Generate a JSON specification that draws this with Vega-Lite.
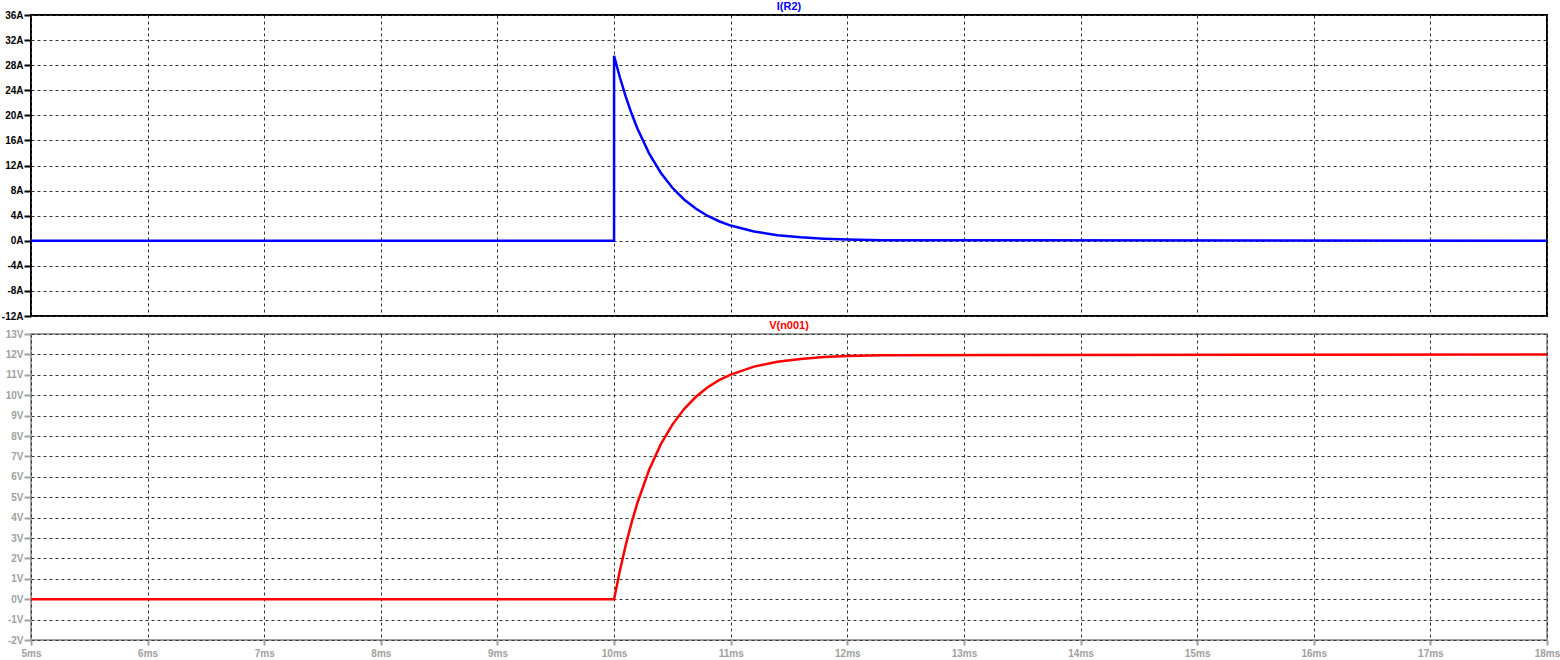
{
  "$schema": "https://vega.github.io/schema/vega-lite/v6.json",
  "padding": {"left": 0, "top": 0, "right": 0, "bottom": 0},
  "background": "white",
  "spacing": 18,
  "bounds": "flush",
  "datasets": {
    "current": [
      {"t": 5, "I": 0, "k": 0}, {"t": 10, "I": 0, "k": 1}, {"t": 10, "I": 29.5, "k": 2},
      {"t": 10.05, "I": 26.03, "k": 3}, {"t": 10.1, "I": 22.97, "k": 4}, {"t": 10.15, "I": 20.28, "k": 5},
      {"t": 10.2, "I": 17.89, "k": 6}, {"t": 10.3, "I": 13.94, "k": 7}, {"t": 10.4, "I": 10.85, "k": 8},
      {"t": 10.5, "I": 8.45, "k": 9}, {"t": 10.6, "I": 6.58, "k": 10}, {"t": 10.7, "I": 5.13, "k": 11},
      {"t": 10.8, "I": 3.99, "k": 12}, {"t": 10.9, "I": 3.11, "k": 13}, {"t": 11.0, "I": 2.42, "k": 14},
      {"t": 11.2, "I": 1.47, "k": 15}, {"t": 11.4, "I": 0.89, "k": 16}, {"t": 11.6, "I": 0.54, "k": 17},
      {"t": 11.8, "I": 0.33, "k": 18}, {"t": 12.0, "I": 0.2, "k": 19}, {"t": 12.3, "I": 0.09, "k": 20},
      {"t": 18, "I": 0, "k": 21}
    ],
    "voltage": [
      {"t": 5, "V": 0}, {"t": 10, "V": 0}, {"t": 10.05, "V": 1.41}, {"t": 10.1, "V": 2.65},
      {"t": 10.15, "V": 3.75}, {"t": 10.2, "V": 4.72}, {"t": 10.3, "V": 6.33}, {"t": 10.4, "V": 7.59},
      {"t": 10.5, "V": 8.56}, {"t": 10.6, "V": 9.32}, {"t": 10.7, "V": 9.91}, {"t": 10.8, "V": 10.38},
      {"t": 10.9, "V": 10.74}, {"t": 11.0, "V": 11.01}, {"t": 11.2, "V": 11.4}, {"t": 11.4, "V": 11.64},
      {"t": 11.6, "V": 11.78}, {"t": 11.8, "V": 11.87}, {"t": 12.0, "V": 11.92}, {"t": 12.3, "V": 11.96},
      {"t": 18, "V": 12}
    ]
  },
  "config": {
    "font": "Liberation Sans",
    "axis": {
      "grid": true,
      "gridColor": "#333333",
      "gridDash": [3, 3],
      "gridWidth": 1,
      "gridOpacity": 1,
      "domain": false,
      "labelFont": "Liberation Sans",
      "labelFontSize": 10,
      "labelFontWeight": "bold",
      "tickSize": 7,
      "tickWidth": 2,
      "labelPadding": 1,
      "title": null
    },
    "axisY": {"minExtent": 30, "maxExtent": 30}
  },
  "vconcat": [
    {
      "width": 1516,
      "height": 301,
      "view": {"stroke": "#000000", "strokeWidth": 2},
      "title": {"text": "I(R2)", "color": "#0000ff", "fontSize": 11, "fontWeight": "bold", "offset": -2, "anchor": "middle", "font": "Liberation Sans"},
      "data": {"name": "current"},
      "mark": {"type": "line", "color": "#0000ff", "strokeWidth": 2.5, "clip": true},
      "encoding": {
        "x": {
          "field": "t", "type": "quantitative",
          "scale": {"domain": [5, 18], "nice": false, "zero": false},
          "axis": {"values": [5, 6, 7, 8, 9, 10, 11, 12, 13, 14, 15, 16, 17, 18], "labels": false, "ticks": false}
        },
        "y": {
          "field": "I", "type": "quantitative",
          "scale": {"domain": [-12, 36], "nice": false, "zero": false},
          "axis": {
            "values": [-12, -8, -4, 0, 4, 8, 12, 16, 20, 24, 28, 32, 36],
            "labelExpr": "datum.value + 'A'",
            "labelColor": "#000000",
            "tickColor": "#000000"
          }
        },
        "order": {"field": "k", "type": "quantitative"}
      }
    },
    {
      "width": 1516,
      "height": 306,
      "view": {"stroke": "#a0a0a0", "strokeWidth": 2},
      "title": {"text": "V(n001)", "color": "#ff0000", "fontSize": 11, "fontWeight": "bold", "offset": -2, "anchor": "middle", "font": "Liberation Sans"},
      "data": {"name": "voltage"},
      "mark": {"type": "line", "color": "#ff0000", "strokeWidth": 2.5, "clip": true},
      "encoding": {
        "x": {
          "field": "t", "type": "quantitative",
          "scale": {"domain": [5, 18], "nice": false, "zero": false},
          "axis": {
            "values": [5, 6, 7, 8, 9, 10, 11, 12, 13, 14, 15, 16, 17, 18],
            "labelExpr": "datum.value + 'ms'",
            "labelColor": "#a0a0a0",
            "tickColor": "#a0a0a0",
            "tickSize": 5,
            "labelFlush": false,
            "labelPadding": 3
          }
        },
        "y": {
          "field": "V", "type": "quantitative",
          "scale": {"domain": [-2, 13], "nice": false, "zero": false},
          "axis": {
            "values": [-2, -1, 0, 1, 2, 3, 4, 5, 6, 7, 8, 9, 10, 11, 12, 13],
            "labelExpr": "datum.value + 'V'",
            "labelColor": "#a0a0a0",
            "tickColor": "#a0a0a0"
          }
        }
      }
    }
  ]
}
